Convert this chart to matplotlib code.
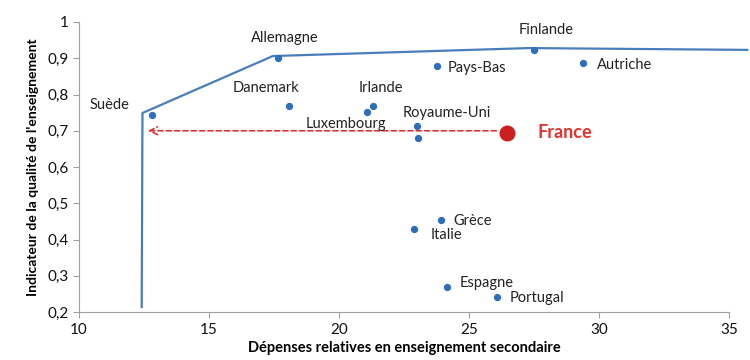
import matplotlib
matplotlib.use("Agg")
import matplotlib.pyplot as plt
from matplotlib.ticker import FixedLocator, FuncFormatter

plt.rcParams['font.family'] = ['Lato', 'DejaVu Sans']

countries = ["Suède", "Allemagne", "Danemark", "Irlande", "Luxembourg", "Royaume-Uni", "",
             "Pays-Bas", "Finlande", "Autriche", "Grèce", "Italie", "Espagne", "Portugal"]
depenses = [12.8, 17.65, 18.1, 21.3, 21.1, 23.0, 23.04, 23.77, 27.5, 29.4, 23.92, 22.9, 24.15, 26.08]
qualite = [0.743, 0.900, 0.768, 0.768, 0.752, 0.713, 0.680, 0.879, 0.923, 0.887, 0.454, 0.429, 0.269, 0.241]

france_x, france_y = 26.46, 0.694

frontier_x = [12.42, 12.45, 17.46, 27.3, 35.7]
frontier_y = [0.214, 0.749, 0.906, 0.928, 0.923]

xticks = [10, 15, 20, 25, 30, 35]
yticks = [0.2, 0.3, 0.4, 0.5, 0.6, 0.7, 0.8, 0.9, 1.0]

# label offsets in pixels (dx, dy)
offsets = {
    "Suède": (-42, 10), "Allemagne": (7, 20), "Danemark": (-23, 18), "Irlande": (8, 18),
    "Luxembourg": (-22, -12), "Royaume-Uni": (30, 13), "Pays-Bas": (40, -2),
    "Finlande": (12, 20), "Autriche": (41, -2), "Grèce": (32, -1), "Italie": (32, -6),
    "Espagne": (40, 4), "Portugal": (40, -1),
}

fig = plt.figure(figsize=(7.5, 3.6), dpi=100)
ax = fig.add_axes([0.105, 0.133, 0.867, 0.806])

ax.plot(frontier_x, frontier_y, color="#4a7ebb", lw=1.6, clip_on=False, zorder=2)
ax.scatter(depenses, qualite, s=18, color="#2e6fbd", zorder=3, clip_on=False)

for name, x, y in zip(countries, depenses, qualite):
    if not name:
        continue
    dx, dy = offsets[name]
    ax.annotate(name, (x, y), xytext=(dx, dy), textcoords="offset pixels",
                ha="center", va="center", fontsize=10.5, color="#222222")

ax.annotate("", xy=(12.55, 0.70), xytext=(france_x - 0.3, 0.70),
            arrowprops=dict(arrowstyle="->", color="#e03030", lw=1.2, linestyle=(0, (3, 2)),
                            mutation_scale=14), zorder=2)
ax.scatter([france_x], [france_y], s=110, color="#cc2020", zorder=4)
ax.annotate("France", (france_x, france_y), xytext=(58, 0), textcoords="offset pixels",
            ha="center", va="center", fontsize=13, color="#e8302a", fontweight="bold")

ax.set_xlim(10, 35)
ax.set_ylim(0.2, 1.0)
ax.xaxis.set_major_locator(FixedLocator(xticks))
ax.yaxis.set_major_locator(FixedLocator(yticks))
ax.yaxis.set_major_formatter(FuncFormatter(
    lambda v, p: "1" if abs(v - 1) < 1e-9 else f"{v:.1f}".replace(".", ",")))
for s in ["top", "right"]:
    ax.spines[s].set_visible(False)
for s in ["left", "bottom"]:
    ax.spines[s].set_color("#a0a0a0")
ax.tick_params(axis="both", colors="#a0a0a0", labelcolor="#111111", labelsize=11,
               length=4, direction="out")

ax.set_xlabel("Dépenses relatives en enseignement secondaire", fontsize=10.5,
              fontweight="bold", labelpad=3)
ax.set_ylabel("Indicateur de la qualité de l'enseignement", fontsize=10,
              fontweight="bold", labelpad=6)

fig.savefig("out.png", dpi=100)
